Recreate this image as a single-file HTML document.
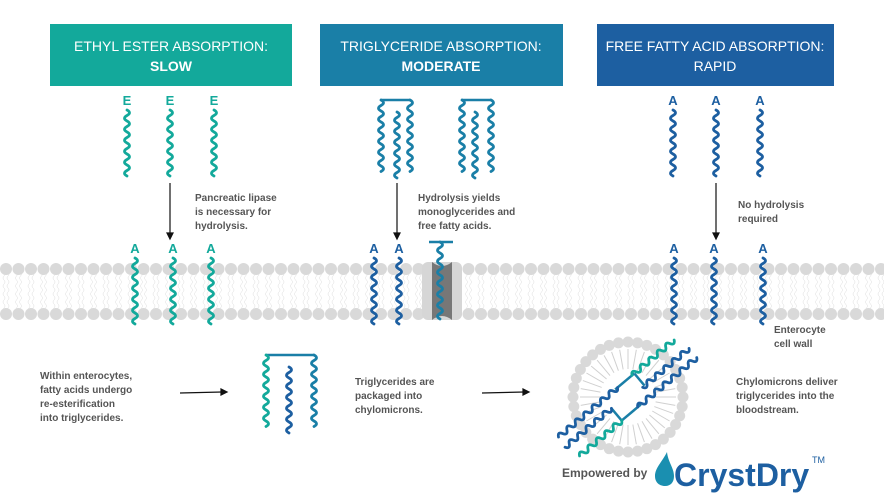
<!DOCTYPE html>
<html><head><meta charset="utf-8"><style>
body{margin:0;background:#fff;width:884px;height:497px;overflow:hidden}
svg{display:block}
text{font-family:"Liberation Sans",sans-serif}
.l{font-size:10px;font-weight:bold;fill:#555}
.h{font-size:14px;fill:#fff}
.ltr{font-size:13px;font-weight:bold}
</style></head><body>
<svg id="s" width="884" height="497" viewBox="0 0 884 497">
<g id="mem"></g>
<rect x="50" y="24" width="242" height="62" fill="#13a99b"/>
<rect x="320" y="24" width="243" height="62" fill="#1a7fa7"/>
<rect x="597" y="24" width="237" height="62" fill="#1d5fa1"/>
<text class="h" x="171" y="51" text-anchor="middle">ETHYL ESTER ABSORPTION:</text>
<text class="h" x="171" y="71" text-anchor="middle" font-weight="bold">SLOW</text>
<text class="h" x="441" y="51" text-anchor="middle">TRIGLYCERIDE ABSORPTION:</text>
<text class="h" x="441" y="71" text-anchor="middle" font-weight="bold">MODERATE</text>
<text class="h" x="715" y="51" text-anchor="middle">FREE FATTY ACID ABSORPTION:</text>
<text class="h" x="715" y="71" text-anchor="middle">RAPID</text>
<g class="ltr" text-anchor="middle" fill="#13a99b">
<text x="127" y="105">E</text><text x="170" y="105">E</text><text x="214" y="105">E</text>
<text x="135" y="253">A</text><text x="173" y="253">A</text><text x="211" y="253">A</text></g>
<g class="ltr" text-anchor="middle" fill="#1d5fa1">
<text x="673" y="105">A</text><text x="716" y="105">A</text><text x="760" y="105">A</text>
<text x="374" y="253">A</text><text x="399" y="253">A</text>
<text x="674" y="253">A</text><text x="714" y="253">A</text><text x="763" y="253">A</text></g>
<g stroke="#111" stroke-width="1.2" fill="#111">
<line x1="170" y1="183" x2="170" y2="234"/><path d="M167 233 L173 233 L170 239Z"/>
<line x1="397" y1="183" x2="397" y2="234"/><path d="M394 233 L400 233 L397 239Z"/>
<line x1="716" y1="183" x2="716" y2="234"/><path d="M713 233 L719 233 L716 239Z"/>
<line x1="180" y1="393" x2="222" y2="392"/><path d="M221 389 L221 395 L227 392Z"/>
<line x1="482" y1="393" x2="524" y2="392"/><path d="M523 389 L523 395 L529 392Z"/>
</g>
<g class="l">
<text x="195" y="201">Pancreatic lipase</text><text x="195" y="215">is necessary for</text><text x="195" y="229">hydrolysis.</text>
<text x="418" y="201">Hydrolysis yields</text><text x="418" y="215">monoglycerides and</text><text x="418" y="229">free fatty acids.</text>
<text x="738" y="208">No hydrolysis</text><text x="738" y="222">required</text>
<text x="774" y="333">Enterocyte</text><text x="774" y="347">cell wall</text>
<text x="40" y="379">Within enterocytes,</text><text x="40" y="393">fatty acids undergo</text><text x="40" y="407">re-esterification</text><text x="40" y="421">into triglycerides.</text>
<text x="355" y="385">Triglycerides are</text><text x="355" y="399">packaged into</text><text x="355" y="413">chylomicrons.</text>
<text x="736" y="385">Chylomicrons deliver</text><text x="736" y="399">triglycerides into the</text><text x="736" y="413">bloodstream.</text>
</g>
<g id="w"></g>
<text x="562" y="477" font-size="12" font-weight="bold" fill="#555">Empowered by</text>
<path d="M667 452 C662 462 655 468 655 476 C655 483 660 486 665 486 C671 486 674 482 674 476 C674 468 668 462 667 452Z" fill="#1a8fb0"/>
<text x="674" y="486" font-size="32" font-weight="bold" fill="#1d5fa1">CrystDry</text>
<text x="812" y="463" font-size="9" fill="#1d5fa1">TM</text>
</svg>
<script>
var NS="http://www.w3.org/2000/svg",m=document.getElementById('mem'),w=document.getElementById('w');
function el(p,t,a){var e=document.createElementNS(NS,t);for(var k in a)e.setAttribute(k,a[k]);p.appendChild(e);return e;}
for(var x=6;x<884;x+=12.5){
 el(m,'path',{d:'M'+(x-2)+' 272 q2 2 0 4 q-2 2 0 4 q2 2 0 4 q-2 2 0 4 q2 2 0 4 q-2 2 0 4 q2 2 0 4 q-2 2 0 4 q2 2 0 4 q-2 2 0 4 M'+(x+2)+' 272 q2 2 0 4 q-2 2 0 4 q2 2 0 4 q-2 2 0 4 q2 2 0 4 q-2 2 0 4 q2 2 0 4 q-2 2 0 4 q2 2 0 4 q-2 2 0 4',stroke:'#ddd','stroke-width':0.5,fill:'none'});
 el(m,'circle',{cx:x,cy:269,r:6,fill:'#d9d9d9'});
 el(m,'circle',{cx:x,cy:314,r:6,fill:'#d9d9d9'});
}
el(m,'rect',{x:422,y:262,width:40,height:58,rx:6,fill:'#d6d6d6'});
el(m,'path',{d:'M432 262 Q442 270 452 262 L452 320 Q442 312 432 320Z',fill:'#777'});
function wave(x,y1,y2,c,g){var d='M'+x+' '+y1,s=1;for(var y=y1;y<y2-1;y+=5.5){d+=' q'+(5*s)+' 2.75 0 5.5';s=-s;}el(g||w,'path',{d:d,stroke:c,'stroke-width':2.8,fill:'none','stroke-linecap':'round'});}
var T='#13a99b',M='#1a7fa7',B='#1d5fa1';
[127,170,214].forEach(function(x){wave(x,110,175,T)});
[673,716,760].forEach(function(x){wave(x,110,175,B)});
function tg(a,b,c,y,ca,cb,cc){el(w,'line',{x1:a,y1:y,x2:c,y2:y,stroke:M,'stroke-width':2.5});wave(a,y,y+68,ca);wave(b,y+12,y+78,cb);wave(c,y,y+68,cc);}
tg(381,397,410,100,M,M,M);tg(462,475,491,100,M,M,M);
[135,173,211].forEach(function(x){wave(x,258,325,T)});
[374,399,674,714,763].forEach(function(x){wave(x,258,322,B)});
el(w,'line',{x1:429,y1:242,x2:453,y2:242,stroke:M,'stroke-width':2.5});wave(440,242,318,M);
tg(266,289,314,355,T,B,M);
var cx=628,cy=397,g=el(w,'g',{});
for(var i=0;i<36;i++){var a=i*Math.PI*2/36;el(g,'circle',{cx:cx+55*Math.cos(a),cy:cy+55*Math.sin(a),r:5.5,fill:'#d9d9d9'});
 el(g,'line',{x1:cx+48*Math.cos(a),y1:cy+48*Math.sin(a),x2:cx+28*Math.cos(a),y2:cy+28*Math.sin(a),stroke:'#d0d0d0','stroke-width':1});}
el(g,'circle',{cx:cx,cy:cy,r:26,fill:'#fff'});
var g2=el(w,'g',{transform:'rotate(50 '+cx+' '+cy+')'});
el(g2,'line',{x1:cx-14,y1:cy-20,x2:cx-14,y2:cy+5,stroke:M,'stroke-width':2.5});
el(g2,'line',{x1:cx+14,y1:cy+20,x2:cx+14,y2:cy-5,stroke:M,'stroke-width':2.5});
el(g2,'line',{x1:cx-14,y1:cy-20,x2:cx+2,y2:cy-20,stroke:M,'stroke-width':2.5});
el(g2,'line',{x1:cx+14,y1:cy+20,x2:cx-2,y2:cy+20,stroke:M,'stroke-width':2.5});
wave(cx-14,cy-20-52,cy-20,T,g2);wave(cx+2,cy-20-58,cy-20,B,g2);wave(cx+14,cy-20-58,cy-2,B,g2);
wave(cx+14,cy+20,cy+72,T,g2);wave(cx-2,cy+20,cy+78,B,g2);wave(cx-14,cy+2,cy+78,B,g2);
</script>
</body></html>
